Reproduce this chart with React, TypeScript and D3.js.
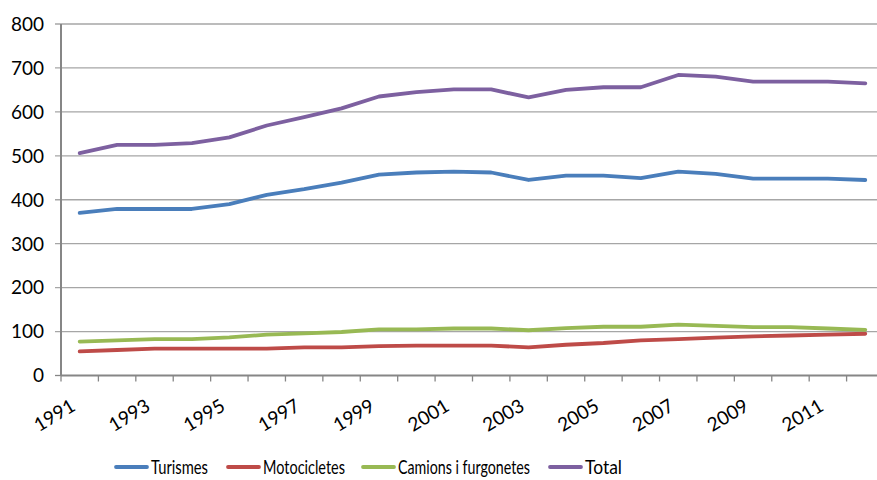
import React from "react";
import * as d3 from "d3";

const years = d3.range(1991, 2013).map(String);
const turismes = [370, 379, 379, 379, 390, 411, 424, 439, 457, 462, 464, 462, 445, 455, 455, 449, 464, 459, 448, 448, 448, 445];
const motocicletes = [55, 58, 61, 61, 61, 61, 64, 64, 67, 68, 68, 68, 64, 70, 74, 80, 83, 86, 89, 91, 93, 95];
const camions = [77, 80, 83, 83, 87, 93, 96, 99, 105, 105, 107, 107, 103, 108, 111, 111, 116, 113, 110, 110, 107, 104];
const total = [506, 525, 525, 529, 542, 569, 588, 608, 635, 645, 651, 651, 633, 650, 656, 656, 684, 680, 669, 669, 669, 665];
const yTicks = [0, 100, 200, 300, 400, 500, 600, 700, 800];

const series = [
  { name: "Turismes", values: turismes, color: "#4a7ebb", textLen: 57 },
  { name: "Motocicletes", values: motocicletes, color: "#be4b48", textLen: 82 },
  { name: "Camions i furgonetes", values: camions, color: "#98b954", textLen: 132 },
  { name: "Total", values: total, color: "#7d60a0", textLen: 37 },
];

const W = 877;
const H = 480;
const left = 61;
const right = 884;
const top = 24;
const bottom = 375.5;
const font = "Lato, 'Open Sans', sans-serif";
const legendY = 467;

export default function App() {
  const x = d3.scaleBand<string>().domain(years).range([left, right]).paddingInner(0).paddingOuter(0);
  const y = d3.scaleLinear().domain([0, 800]).range([bottom, top]);
  const line = d3
    .line<number>()
    .x((_, i) => (x(years[i]) as number) + x.bandwidth() / 2)
    .y((d) => y(d));

  const legendX = [116, 228, 363, 550];

  return (
    <svg width={W} height={H} style={{ position: "absolute", left: 0, top: 0, background: "#fff" }}>
      {yTicks.map((t) => (
        <g key={t}>
          {t > 0 && <line x1={left - 6} x2={W} y1={y(t)} y2={y(t)} stroke="#a6a6a6" strokeWidth={1.3} />}
          {t === 0 && <line x1={left - 6} x2={left} y1={y(t)} y2={y(t)} stroke="#868686" strokeWidth={1.3} />}
          <text x={44} y={y(t)} dy="0.36em" textAnchor="end" fontFamily={font} fontSize={19} fill="#000">
            {t}
          </text>
        </g>
      ))}
      <line x1={left} x2={left} y1={top} y2={bottom} stroke="#868686" strokeWidth={2} />
      <line x1={left} x2={W} y1={bottom} y2={bottom} stroke="#868686" strokeWidth={2} />
      {years.map((yr) => (
        <line key={yr} x1={x(yr)} x2={x(yr)} y1={bottom} y2={bottom + 6} stroke="#868686" strokeWidth={1.3} />
      ))}
      {years.map((yr, i) =>
        i % 2 === 0 ? (
          <text
            key={yr}
            transform={`translate(${(x(yr) as number) + x.bandwidth() / 2 - 3},${bottom + 34}) rotate(-31)`}
            textAnchor="end"
            fontFamily={font}
            fontSize={19}
            fill="#000"
          >
            {yr}
          </text>
        ) : null
      )}
      {series.map((s) => (
        <path key={s.name} d={line(s.values) || ""} fill="none" stroke={s.color} strokeWidth={3.8} strokeLinejoin="round" strokeLinecap="round" />
      ))}
      {series.map((s, i) => (
        <g key={s.name}>
          <line x1={legendX[i]} x2={legendX[i] + 31} y1={legendY} y2={legendY} stroke={s.color} strokeWidth={3.8} strokeLinecap="round" />
          <text
            x={legendX[i] + 35}
            y={legendY}
            dy="0.36em"
            fontFamily={font}
            fontSize={20}
            fill="#000"
            textLength={s.textLen}
            lengthAdjust="spacingAndGlyphs"
          >
            {s.name}
          </text>
        </g>
      ))}
    </svg>
  );
}
